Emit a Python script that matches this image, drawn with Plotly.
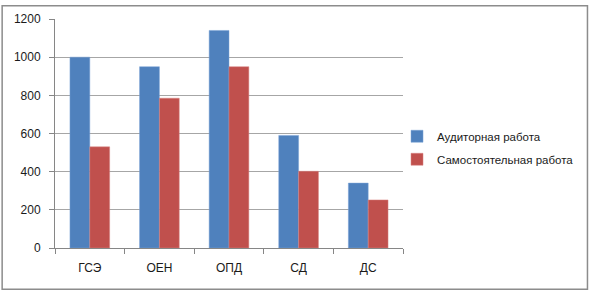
import plotly.graph_objects as go

categories = ["ГСЭ", "ОЕН", "ОПД", "СД", "ДС"]
auditory = [1000, 950, 1140, 590, 340]
independent = [530, 785, 950, 402, 252]
series_names = ["Аудиторная работа", "Самостоятельная работа"]
y_ticks = [0, 200, 400, 600, 800, 1000, 1200]

W, H = 591, 292
ML, MR, MT, MB = 55, 187, 15, 44
PW, PH = W - ML - MR, H - MT - MB

def px_to_paper_x(px):
    return (px - ML) / PW

def px_to_paper_y(py):
    return (H - MB - py) / PH

font = dict(family="Liberation Sans, Arial, sans-serif", size=11, color="#1a1a1a")

fig = go.Figure()
fig.add_trace(go.Bar(x=categories, y=auditory, name=series_names[0],
                     marker=dict(color="#4F81BD", line=dict(color="#7BA3D6", width=0.5)),
                     legendgroup="a"))
fig.add_trace(go.Bar(x=categories, y=independent, name=series_names[1],
                     marker=dict(color="#C0504D", line=dict(color="#D88583", width=0.5)),
                     legendgroup="b"))

fig.update_layout(
    width=W, height=H,
    margin=dict(l=ML, r=MR, t=MT, b=MB),
    paper_bgcolor="white", plot_bgcolor="white",
    barmode="group", bargap=0.43, bargroupgap=0,
    font=font,
    legend=dict(x=px_to_paper_x(398), xanchor="left",
                y=px_to_paper_y(146), yanchor="middle",
                font=dict(size=11.5), tracegroupgap=4,
                itemwidth=30, bgcolor="rgba(0,0,0,0)"),
    showlegend=True,
)
fig.update_xaxes(
    showgrid=False, showline=True, linecolor="#868686", linewidth=1,
    ticks="outside", ticklen=5, tickcolor="#868686", tickson="boundaries",
    ticklabelstandoff=9, tickfont=dict(size=12),
)
fig.update_yaxes(
    range=[0, 1200], tickvals=y_ticks, showgrid=True, gridcolor="#A6A6A6", gridwidth=1,
    showline=True, linecolor="#868686", linewidth=1,
    ticks="outside", ticklen=5, tickcolor="#868686",
    ticklabelstandoff=6, tickfont=dict(size=12), zeroline=False,
)

fig.add_shape(type="rect", xref="paper", yref="paper",
              x0=px_to_paper_x(2), x1=px_to_paper_x(589),
              y0=px_to_paper_y(290), y1=px_to_paper_y(1.5),
              line=dict(color="#8C8C8C", width=1.5), fillcolor="rgba(0,0,0,0)",
              layer="below")

fig.write_html("out.html", config={"displayModeBar": False},
               post_script="document.body.style.margin='0';")
